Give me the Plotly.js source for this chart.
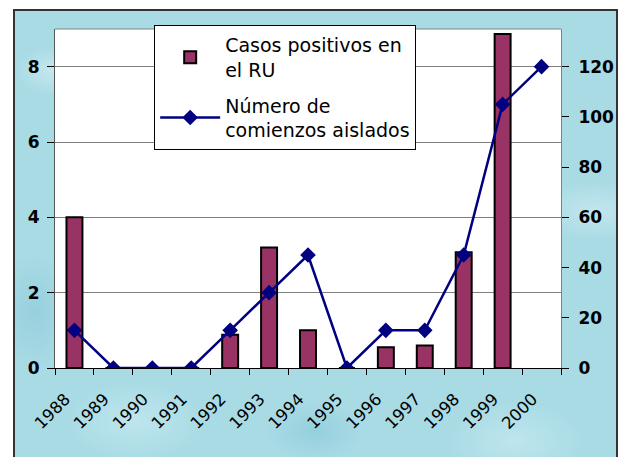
<!DOCTYPE html>
<html>
<head>
<meta charset="utf-8">
<script src="https://cdn.plot.ly/plotly-3.0.1.min.js"></script>
<style>
  html, body { margin: 0; padding: 0; background: #ffffff; overflow: hidden; }
  #frame {
    position: absolute; left: 13px; top: 9px; width: 601px; height: 460px;
    border-left: 2px solid #333; border-top: 2px solid #333; border-right: 2px solid #333;
    background-color: #a9dbe5;
    background-image:
      radial-gradient(ellipse 40px 25px at 40px 60px, rgba(255,255,255,0.35), rgba(255,255,255,0) 100%),
      radial-gradient(ellipse 60px 30px at 580px 200px, rgba(255,255,255,0.3), rgba(255,255,255,0) 100%),
      radial-gradient(ellipse 50px 30px at 300px 420px, rgba(120,190,210,0.4), rgba(120,190,210,0) 100%),
      radial-gradient(ellipse 70px 40px at 120px 410px, rgba(210,240,245,0.5), rgba(210,240,245,0) 100%),
      radial-gradient(ellipse 70px 40px at 500px 430px, rgba(210,240,245,0.5), rgba(210,240,245,0) 100%),
      radial-gradient(ellipse 40px 60px at 20px 300px, rgba(130,195,212,0.45), rgba(130,195,212,0) 100%);
  }
  #chart { position: absolute; left: 0; top: 0; width: 619px; height: 457px; }
</style>
</head>
<body>
<div id="frame"></div>
<div id="chart"></div>
<script>
// Data
var years = ['1988','1989','1990','1991','1992','1993','1994','1995','1996','1997','1998','1999','2000'];
var casosPositivos = [4, 0, 0, 0, 0.88, 3.2, 1, 0, 0.55, 0.6, 3.07, 8.87, null];
var comienzosAislados = [15, 0, 0, 0, 15, 30, 45, 0, 15, 15, 45, 105, 120];
var leftTicks = [0, 2, 4, 6, 8];
var rightTicks = [0, 20, 40, 60, 80, 100, 120];

var font = 'DejaVu Sans, Verdana, sans-serif';

var traces = [
  {
    type: 'bar',
    name: 'Casos positivos en<br>el RU',
    legendgroup: 'casos',
    x: years,
    y: casosPositivos,
    yaxis: 'y',
    marker: { color: '#993366', line: { color: '#000000', width: 2 } },
    hoverinfo: 'x+y'
  },
  {
    type: 'scatter',
    mode: 'lines+markers',
    name: 'Número de<br>comienzos aislados',
    legendgroup: 'comienzos',
    x: years,
    y: comienzosAislados,
    yaxis: 'y2',
    line: { color: '#000080', width: 2.5 },
    marker: { symbol: 'diamond', size: 12, color: '#000080' }
  }
];

var layout = {
  width: 619,
  height: 457,
  margin: { l: 55, r: 58, t: 29, b: 89, autoexpand: false },
  paper_bgcolor: 'rgba(0,0,0,0)',
  plot_bgcolor: '#ffffff',
  font: { family: font, color: '#000000' },
  bargap: 0.59,
  showlegend: true,
  legend: {
    x: 0.196, y: 1.012, xanchor: 'left', yanchor: 'top',
    bgcolor: '#ffffff', bordercolor: '#000000', borderwidth: 1,
    font: { family: font, size: 19, color: '#000000' },
    itemwidth: 60,
    tracegroupgap: 8
  },
  xaxis: {
    type: 'category',
    range: [-0.5, 12.5],
    automargin: false,
    tickangle: -45,
    tickson: 'boundaries',
    ticks: 'outside', ticklen: 6, tickcolor: '#000000',
    showline: true, linecolor: '#000000', linewidth: 1,
    showgrid: false,
    tickfont: { family: font, size: 16.5, color: '#000000' },
    ticklabelstandoff: 14,
    ticklabelshift: -9,
    fixedrange: true
  },
  yaxis: {
    automargin: false,
    range: [0, 9],
    tickvals: leftTicks,
    ticks: 'outside', ticklen: 7, tickcolor: '#000000',
    showline: true, linecolor: '#555555', linewidth: 1,
    showgrid: true, gridcolor: '#808080', gridwidth: 1,
    zeroline: false,
    tickfont: { family: font, size: 17, color: '#000000', weight: 'bold' },
    ticklabelstandoff: 4,
    fixedrange: true
  },
  yaxis2: {
    automargin: false,
    overlaying: 'y',
    side: 'right',
    range: [0, 135],
    tickvals: rightTicks,
    ticks: 'outside', ticklen: 7, tickcolor: '#000000',
    showline: true, linecolor: '#808080', linewidth: 1,
    showgrid: false, zeroline: false,
    tickfont: { family: font, size: 17, color: '#000000', weight: 'bold' },
    ticklabelstandoff: 6,
    fixedrange: true
  },
  shapes: [
    { type: 'line', xref: 'paper', yref: 'paper', x0: 0, x1: 1, y0: 1, y1: 1,
      line: { color: '#808080', width: 1 }, layer: 'below' }
  ]
};

Plotly.newPlot('chart', traces, layout, { displayModeBar: false, staticPlot: true });
</script>
</body>
</html>
